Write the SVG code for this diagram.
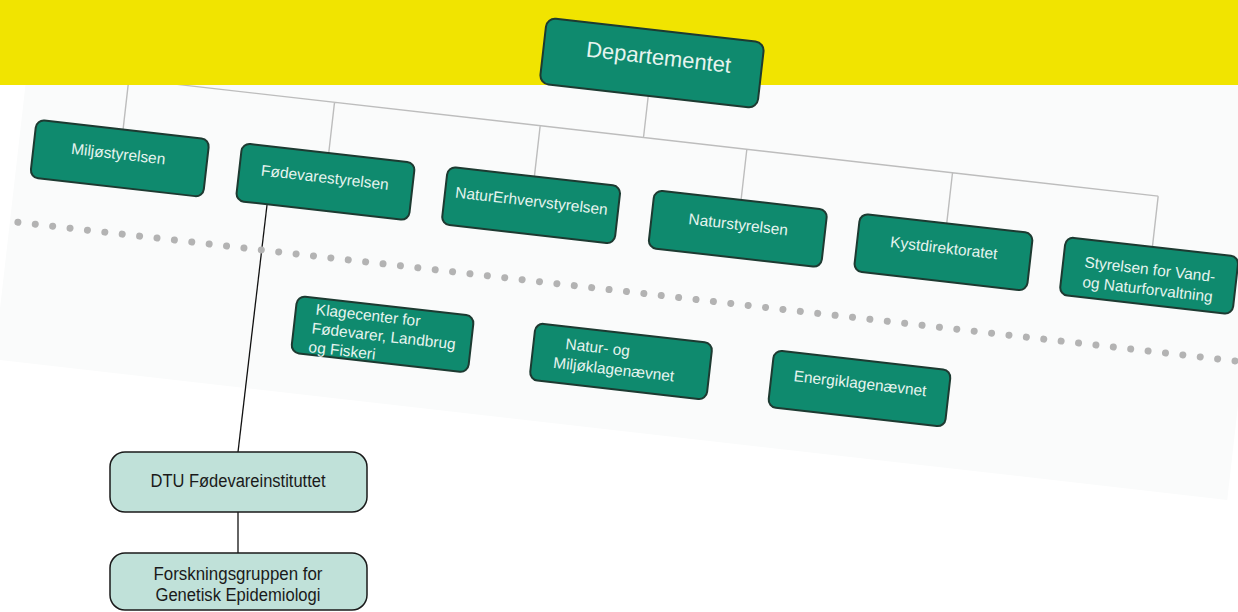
<svg xmlns="http://www.w3.org/2000/svg" width="1238" height="612" viewBox="0 0 1238 612">
<style>
.box{fill:#0f8a6e;stroke:#1d3a31;stroke-width:2}
.t{font-family:"Liberation Sans",Arial,sans-serif;font-size:15.5px;fill:#e6f4ef}
.tc{text-anchor:middle}
.gc{fill:none;stroke:#bdbdbd;stroke-width:1.4}
.kc{fill:none;stroke:#111111;stroke-width:1.3}
.lbox{fill:#c0e1d9;stroke:#1a1a1a;stroke-width:1.5}
.lt{font-family:"Liberation Sans",Arial,sans-serif;font-size:18px;fill:#1a1a1a;text-anchor:middle}
</style>
<rect width="1238" height="612" fill="#ffffff"/>
<rect id="panel" x="-620" y="-130" width="1241" height="499" fill="#fafbfb" transform="translate(652,63) rotate(6.5)"/>
<g id="connectors">
  <g transform="translate(652,63) rotate(6.5)">
    <path class="gc" d="M0,33V75M-518,75H518M-518,75V126M-311,75V126M-104,75V126M104,75V126M311,75V126M518,75V126"/>
  </g>
  <path class="kc" d="M267,205L238,452"/>
  <path class="kc" d="M238,512V553"/>
</g>
<rect id="band" x="0" y="0" width="1238" height="85" fill="#f1e400"/>
<g id="chart" transform="translate(652,63) rotate(6.5)">
  <line id="divider" x1="-612" y1="230" x2="620" y2="230" stroke="#b3b3b3" stroke-width="7" stroke-linecap="round" stroke-dasharray="0 17.5"/>
  <g id="departementet">
    <rect class="box" x="-109.5" y="-33" width="219" height="66" rx="9"/>
    <text class="t tc" x="6" y="1" style="font-size:22px">Departementet</text>
  </g>
  <g id="miljostyrelsen">
    <rect class="box" x="-605" y="126" width="174" height="58" rx="8"/>
    <text class="t tc" x="-520" y="156">Miljøstyrelsen</text>
  </g>
  <g id="fodevarestyrelsen">
    <rect class="box" x="-398" y="126" width="174" height="58" rx="8"/>
    <text class="t tc" x="-312" y="156">Fødevarestyrelsen</text>
  </g>
  <g id="naturerhvervstyrelsen">
    <rect class="box" x="-191" y="126" width="174" height="58" rx="8"/>
    <text class="t tc" x="-104" y="156">NaturErhvervstyrelsen</text>
  </g>
  <g id="naturstyrelsen">
    <rect class="box" x="17" y="126" width="174" height="58" rx="8"/>
    <text class="t tc" x="104" y="156">Naturstyrelsen</text>
  </g>
  <g id="kystdirektoratet">
    <rect class="box" x="224" y="126" width="174" height="58" rx="8"/>
    <text class="t tc" x="311" y="156">Kystdirektoratet</text>
  </g>
  <g id="styrelsen-vand-natur">
    <rect class="box" x="431" y="126" width="174" height="58" rx="8"/>
    <text class="t tc" x="518" y="154">Styrelsen for Vand-</text>
    <text class="t tc" x="518" y="174">og Naturforvaltning</text>
  </g>
  <g id="klagecenter">
    <rect class="box" x="-326" y="271.5" width="178" height="57" rx="8"/>
    <text class="t" x="-306" y="288">Klagecenter for</text>
    <text class="t" x="-308" y="307">Fødevarer, Landbrug</text>
    <text class="t" x="-309" y="326">og Fiskeri</text>
  </g>
  <g id="natur-miljoklagenaevnet">
    <rect class="box" x="-86" y="271.5" width="178" height="57" rx="8"/>
    <text class="t" x="-54" y="294">Natur- og</text>
    <text class="t" x="-64" y="314">Miljøklagenævnet</text>
  </g>
  <g id="energiklagenaevnet">
    <rect class="box" x="154" y="271.5" width="178" height="57" rx="8"/>
    <text class="t tc" x="243" y="300">Energiklagenævnet</text>
  </g>
</g>
<g id="dtu-fodevareinstituttet">
  <rect class="lbox" x="110" y="452" width="257" height="60" rx="15"/>
  <text class="lt" x="238" y="487" textLength="175" lengthAdjust="spacingAndGlyphs">DTU Fødevareinstituttet</text>
</g>
<g id="forskningsgruppen">
  <rect class="lbox" x="110" y="553" width="257" height="57" rx="15"/>
  <text class="lt" x="238" y="580" textLength="169" lengthAdjust="spacingAndGlyphs">Forskningsgruppen for</text>
  <text class="lt" x="238" y="601" textLength="165" lengthAdjust="spacingAndGlyphs">Genetisk Epidemiologi</text>
</g>
</svg>
